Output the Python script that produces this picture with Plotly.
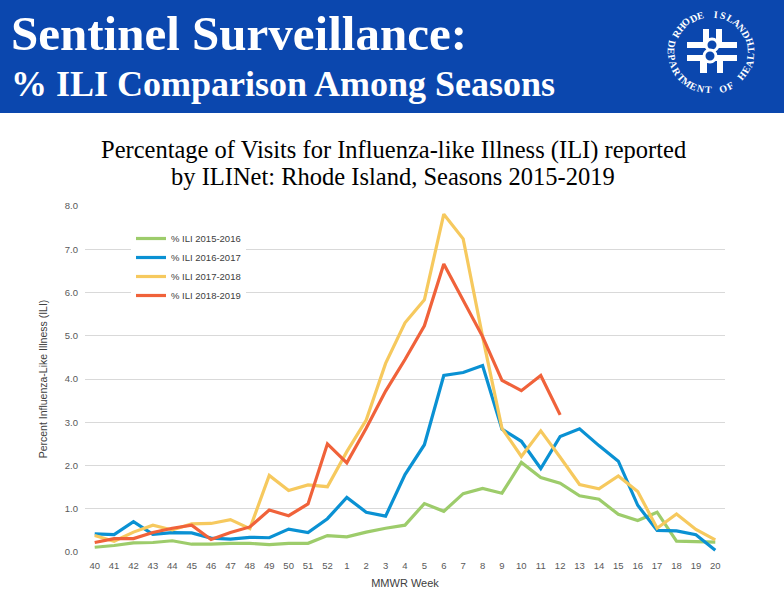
import math

import plotly.graph_objects as go

# MMWR weeks of the season
WEEKS = [str(w) for w in range(40, 53)] + [str(w) for w in range(1, 21)]

ILI_2015_2016 = [0.11, 0.15, 0.21, 0.22, 0.26, 0.18, 0.18, 0.20, 0.20, 0.17, 0.20, 0.20,
                 0.38, 0.35, 0.46, 0.55, 0.62, 1.12, 0.94, 1.35, 1.47, 1.36, 2.07, 1.72,
                 1.59, 1.30, 1.22, 0.87, 0.73, 0.92, 0.25, 0.24, 0.23]
ILI_2016_2017 = [0.42, 0.40, 0.70, 0.41, 0.45, 0.44, 0.32, 0.30, 0.34, 0.33, 0.53, 0.45,
                 0.77, 1.26, 0.92, 0.83, 1.79, 2.48, 4.08, 4.15, 4.31, 2.84, 2.56, 1.93,
                 2.67, 2.85, 2.46, 2.10, 1.08, 0.50, 0.49, 0.40, 0.04]
ILI_2017_2018 = [0.38, 0.25, 0.46, 0.62, 0.51, 0.65, 0.66, 0.75, 0.54, 1.77, 1.42, 1.55,
                 1.51, 2.32, 3.05, 4.36, 5.30, 5.83, 7.81, 7.24, 4.98, 2.86, 2.21, 2.80,
                 2.19, 1.56, 1.46, 1.76, 1.40, 0.55, 0.88, 0.52, 0.28]
ILI_2018_2019 = [0.22, 0.31, 0.31, 0.45, 0.55, 0.62, 0.29, 0.45, 0.58, 0.97, 0.84, 1.11,
                 2.50, 2.06, 2.86, 3.72, 4.45, 5.23, 6.66, 5.83, 4.98, 3.97, 3.73, 4.08,
                 3.17]

SEASON_NAMES = ["% ILI 2015-2016", "% ILI 2016-2017", "% ILI 2017-2018", "% ILI 2018-2019"]
SEASON_COLORS = ["#9DCC6B", "#0A91D3", "#F6C95E", "#F0623A"]

BANNER_BLUE = "#0B47AE"

# plot area in pixels (784 x 589 page)
L, R, T, B = 85, 725, 206, 552


def px(x):
    return (x - L) / (R - L)


def py(y):
    return (B - y) / (B - T)


def add_logo(fig, cx=711, cy=52, rad=40):
    letters = []
    top = "RHODE ISLAND"
    for i, ch in enumerate(top):
        th = 150 - i * (122 / (len(top) - 1))
        letters.append((ch, th, 90 - th))
    ring = "DEPARTMENT OF HEALTH"
    for i, ch in enumerate(ring):
        th = 167 + i * (209 / (len(ring) - 1))
        letters.append((ch, th, -(th + 90)))

    for ch, th, ang in letters:
        if ch == " ":
            continue
        x = cx + rad * math.cos(math.radians(th))
        y = cy - rad * 0.95 * math.sin(math.radians(th))
        fig.add_annotation(
            x=px(x), y=py(y), xref="paper", yref="paper",
            text=f"<b>{ch}</b>", showarrow=False,
            textangle=((ang + 180) % 360) - 180,
            font=dict(family="Liberation Serif", size=10, color="white"),
            xanchor="center", yanchor="middle",
        )

    # rough version of the cross mark in the middle
    bars = [
        (703, 29, 709, 45), (716, 29, 722, 45),
        (687, 42, 737, 48), (687, 55, 737, 61),
        (700, 58, 707, 73), (717, 58, 723, 73),
    ]
    for x0, y0, x1, y1 in bars:
        fig.add_shape(type="rect", xref="paper", yref="paper",
                      x0=px(x0), x1=px(x1), y0=py(y1), y1=py(y0),
                      fillcolor="white", line_width=0, layer="above")
    for x0, y0, x1, y1 in [(706, 39, 718, 51), (704, 50, 716, 62)]:
        fig.add_shape(type="circle", xref="paper", yref="paper",
                      x0=px(x0), x1=px(x1), y0=py(y1), y1=py(y0),
                      fillcolor=BANNER_BLUE, line=dict(color="white", width=3),
                      layer="above")


def main():
    fig = go.Figure()

    series = [ILI_2015_2016, ILI_2016_2017, ILI_2017_2018, ILI_2018_2019]
    for name, vals, color in zip(SEASON_NAMES, series, SEASON_COLORS):
        fig.add_trace(go.Scatter(
            x=WEEKS[:len(vals)], y=vals, name=name, mode="lines",
            line=dict(color=color, width=3.2),
        ))

    tick_font = dict(family="Liberation Sans", size=9.5, color="#595959")
    fig.update_xaxes(
        type="category", categoryorder="array", categoryarray=WEEKS,
        range=[-0.5, len(WEEKS) - 0.5], showgrid=False, zeroline=False,
        showline=False, ticks="", tickfont=tick_font, automargin=False,
        ticklabelstandoff=6,
        title=dict(text="MMWR Week", standoff=9,
                   font=dict(family="Liberation Sans", size=11, color="#404040")),
    )
    fig.update_yaxes(
        range=[0, 8], dtick=1, tickformat=".1f", showgrid=True,
        gridcolor="#D9D9D9", gridwidth=1, zeroline=False, showline=False,
        ticks="", tickfont=tick_font, ticklabelstandoff=6, automargin=False,
        title=dict(text="Percent Influenza-Like Illness (ILI)", standoff=15,
                   font=dict(family="Liberation Sans", size=10.5, color="#404040")),
    )

    # header banner
    fig.add_shape(type="rect", xref="paper", yref="paper",
                  x0=px(0), x1=px(784), y0=py(113), y1=py(0),
                  fillcolor=BANNER_BLUE, line_width=0, layer="below")
    fig.add_annotation(
        x=px(9), y=py(63), xref="paper", yref="paper", showarrow=False,
        text="<b>Sentinel Surveillance:</b>", xanchor="left", yanchor="bottom",
        font=dict(family="Liberation Serif", size=49, color="white"),
    )
    fig.add_annotation(
        x=px(9), y=py(62), xref="paper", yref="paper", showarrow=False,
        text="<b>% ILI Comparison Among Seasons</b>", xanchor="left", yanchor="top",
        font=dict(family="Liberation Serif", size=36, color="white"),
    )
    add_logo(fig)

    title_lines = [
        ("Percentage of Visits for Influenza-like Illness (ILI) reported", 150),
        ("by ILINet: Rhode Island, Seasons 2015-2019", 176),
    ]
    for text, y in title_lines:
        fig.add_annotation(
            x=px(393), y=py(y), xref="paper", yref="paper", showarrow=False,
            text=text, xanchor="center", yanchor="middle",
            font=dict(family="Liberation Serif", size=24.5, color="#000000"),
        )

    fig.update_layout(
        width=784, height=589,
        margin=dict(l=L, r=784 - R, t=T, b=589 - B, autoexpand=False),
        paper_bgcolor="white", plot_bgcolor="white",
        showlegend=True,
        legend=dict(
            x=px(131), y=py(224), xanchor="left", yanchor="top",
            bgcolor="white", borderwidth=0, tracegroupgap=0,
            font=dict(family="Liberation Sans", size=9.5, color="#404040"),
        ),
    )

    page_fix = (
        "document.body.style.margin='0';"
        "document.documentElement.style.overflow='hidden';"
    )
    fig.write_html("out.html", post_script=page_fix,
                   config={"displayModeBar": False})


if __name__ == "__main__":
    main()
